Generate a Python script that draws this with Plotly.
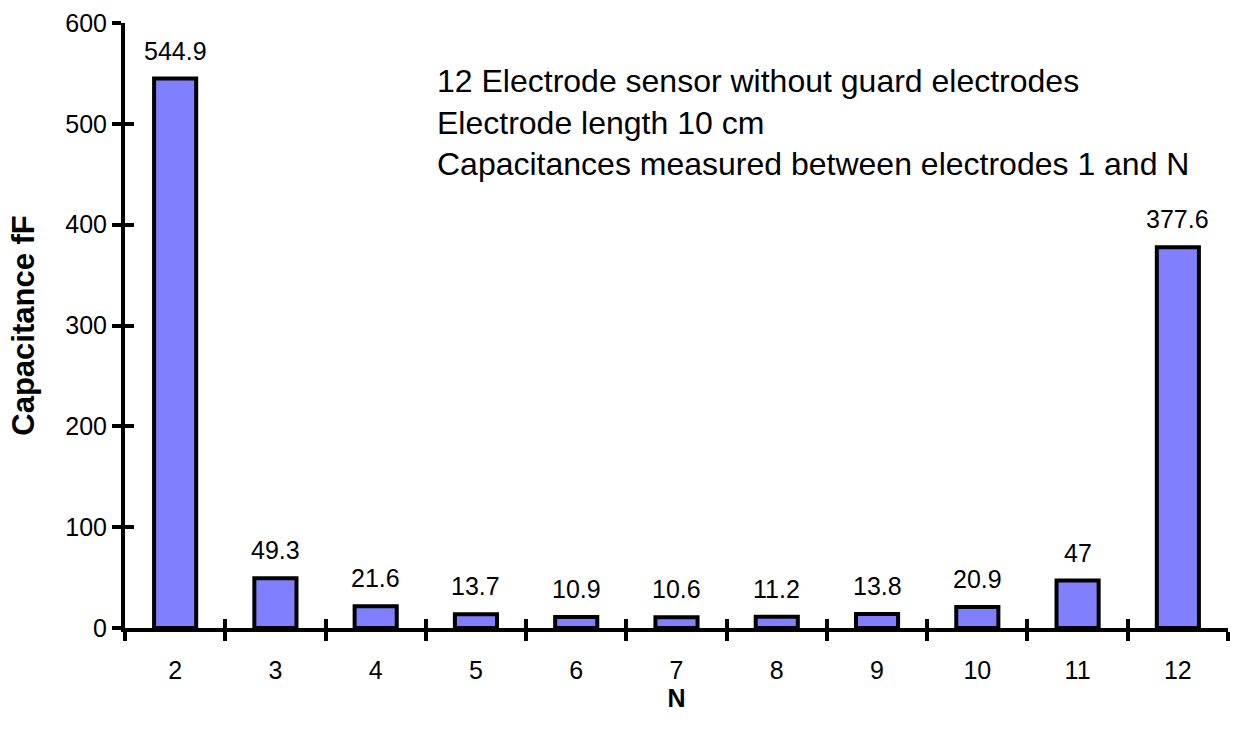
import plotly.graph_objects as go

categories = ["2", "3", "4", "5", "6", "7", "8", "9", "10", "11", "12"]
values = [544.9, 49.3, 21.6, 13.7, 10.9, 10.6, 11.2, 13.8, 20.9, 47, 377.6]
labels = ["544.9", "49.3", "21.6", "13.7", "10.9", "10.6", "11.2", "13.8", "20.9", "47", "377.6"]
y_ticks = [0, 100, 200, 300, 400, 500, 600]
note_lines = ["12 Electrode sensor without guard electrodes",
              "Electrode length 10 cm",
              "Capacitances measured between electrodes 1 and N"]

FONT = "Liberation Sans, Arial, sans-serif"

fig = go.Figure()
fig.add_trace(go.Bar(
    x=categories, y=values,
    marker=dict(color="#8080FF", line=dict(color="black", width=4)),
    width=0.42, hoverinfo="skip",
))
# invisible trace to carry the overlay axes (inside half of crossing ticks)
fig.add_trace(go.Bar(
    x=categories, y=values, xaxis="x2", yaxis="y2",
    marker=dict(color="rgba(0,0,0,0)", line=dict(width=0)), width=0.42,
    hoverinfo="skip", showlegend=False,
))

# value labels above bars (category index positions)
for i, (v, t) in enumerate(zip(values, labels)):
    fig.add_annotation(x=i, y=v, xref="x", yref="y", text=t, showarrow=False,
                       yanchor="middle", yshift=28,
                       font=dict(size=25, family=FONT, color="black"))

axis_common = dict(showgrid=False, zeroline=False, linecolor="black", linewidth=4,
                   tickcolor="black", tickwidth=4, ticklen=9)

fig.update_layout(
    width=1237, height=737,
    margin=dict(l=125, r=9, t=17, b=109),
    paper_bgcolor="white", plot_bgcolor="white",
    showlegend=False,
    font=dict(family=FONT, color="black", size=25),
    xaxis=dict(**axis_common, type="category", categoryorder="array", categoryarray=categories,
               range=[-0.5, 10.5], ticks="outside", tickson="boundaries", showline=True,
               tickfont=dict(size=25), ticklabelstandoff=17,
               title=dict(text="<b>N</b>", font=dict(size=25), standoff=5)),
    yaxis=dict(**axis_common, range=[0, 600], tickvals=y_ticks, ticks="outside", showline=True,
               tickfont=dict(size=25), ticklabelstandoff=0,
               title=dict(text="<b>Capacitance fF</b>", font=dict(size=31), standoff=22)),
    xaxis2=dict(showgrid=False, zeroline=False, type="category", categoryorder="array",
                categoryarray=categories, range=[-0.5, 10.5], ticks="inside", tickson="boundaries",
                tickcolor="black", tickwidth=4, ticklen=9, showticklabels=False, showline=False,
                overlaying="x", anchor="y2"),
    yaxis2=dict(showgrid=False, zeroline=False, range=[0, 600], tickvals=y_ticks, ticks="inside",
                tickcolor="black", tickwidth=4, ticklen=9, showticklabels=False, showline=False,
                overlaying="y", anchor="x2", side="left"),
)

fig.add_annotation(
    xref="paper", yref="paper", x=0.281, y=0.836, xanchor="left", yanchor="middle",
    text="<br>".join(note_lines), align="left", showarrow=False,
    font=dict(size=32, family=FONT, color="black"),
)

fig.write_html("out.html", config={"displayModeBar": False},
               post_script="document.body.style.margin='0';")
